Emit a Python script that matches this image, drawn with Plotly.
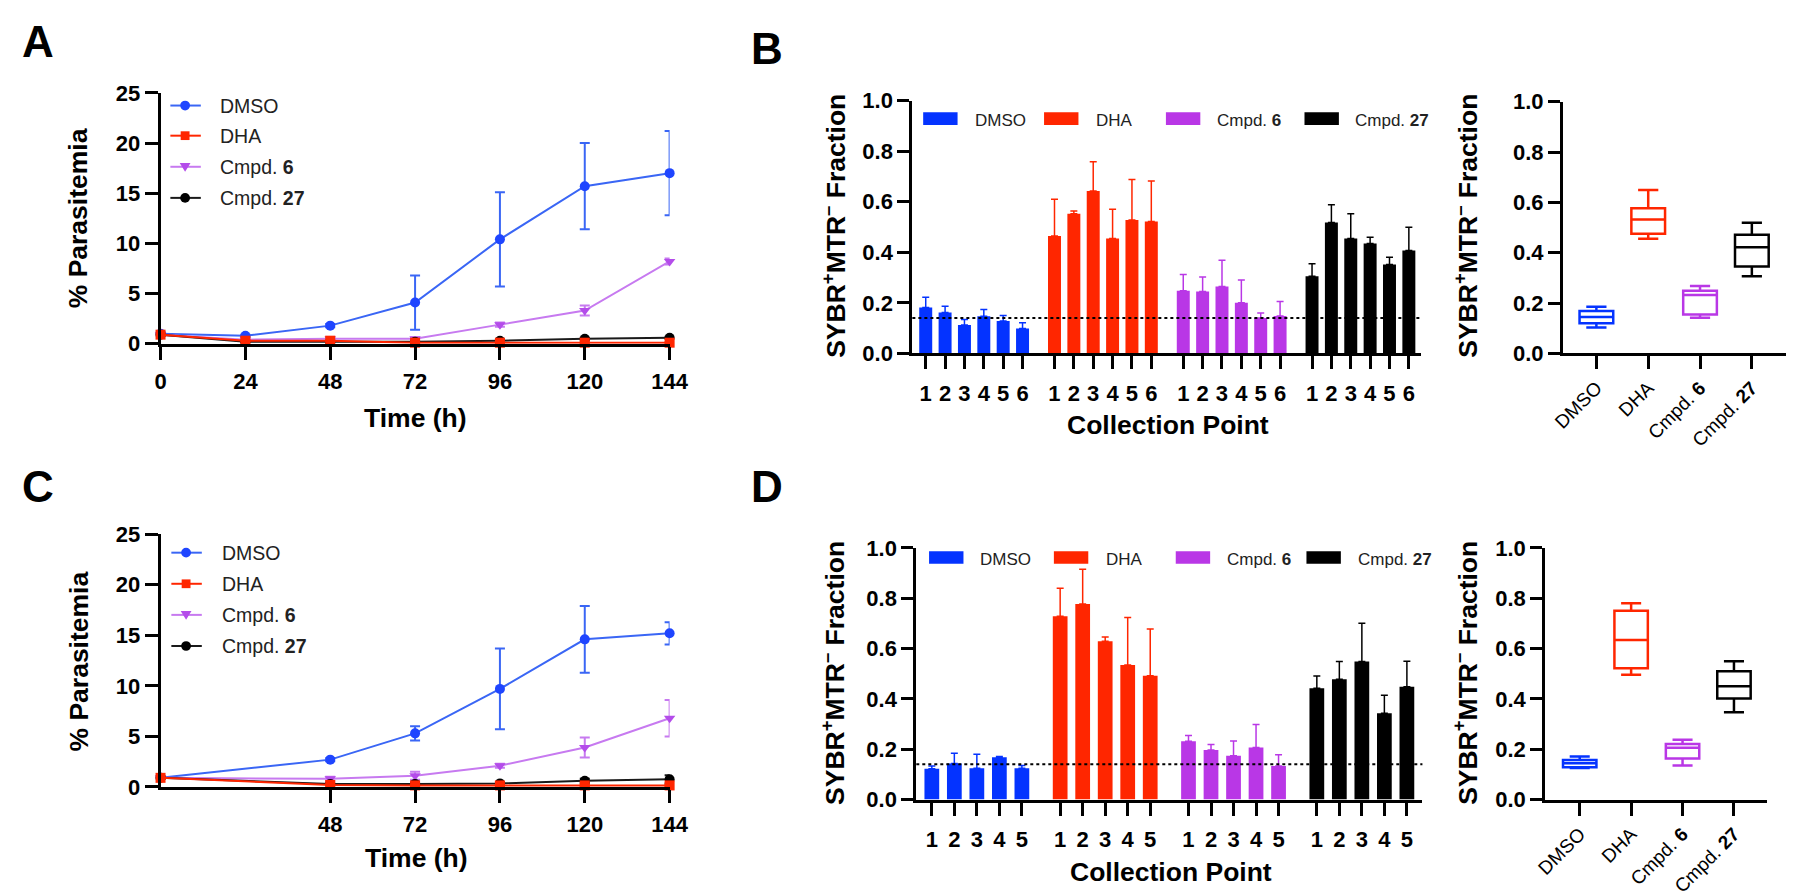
import plotly.graph_objects as go

# ---------------- data ----------------
groups = ["DMSO", "DHA", "Cmpd. 6", "Cmpd. 27"]
group_labels = ["DMSO", "DHA", "Cmpd. <b>6</b>", "Cmpd. <b>27</b>"]

# Panel A: % parasitemia vs time
time_a = [0, 24, 48, 72, 96, 120, 144]
a_dmso = [1.0, 0.8, 1.8, 4.1, 10.4, 15.7, 17.0]
a_dmso_sd = [0.15, 0.1, 0.15, 2.7, 4.7, 4.3, 4.2]
a_dha = [0.9, 0.3, 0.3, 0.1, 0.1, 0.1, 0.1]
a_dha_sd = [0.1, 0.05, 0.05, 0.05, 0.05, 0.05, 0.05]
a_c6 = [0.9, 0.4, 0.5, 0.5, 1.9, 3.3, 8.2]
a_c6_sd = [0.1, 0.05, 0.1, 0.1, 0.2, 0.5, 0.3]
a_c27 = [0.9, 0.2, 0.2, 0.2, 0.3, 0.5, 0.6]
a_c27_sd = [0.1, 0.05, 0.05, 0.05, 0.1, 0.1, 0.1]

# Panel C
time_c = [0, 48, 72, 96, 120, 144]
c_dmso = [0.9, 2.7, 5.3, 9.7, 14.6, 15.2]
c_dmso_sd = [0.1, 0.15, 0.7, 4.0, 3.3, 1.1]
c_dha = [0.9, 0.2, 0.15, 0.15, 0.15, 0.15]
c_dha_sd = [0.1, 0.05, 0.05, 0.05, 0.05, 0.05]
c_c6 = [0.9, 0.8, 1.1, 2.1, 3.9, 6.8]
c_c6_sd = [0.1, 0.2, 0.4, 0.2, 1.0, 1.8]
c_c27 = [0.9, 0.3, 0.3, 0.35, 0.6, 0.75]
c_c27_sd = [0.1, 0.05, 0.05, 0.1, 0.2, 0.4]

# Panel B bars (6 collection points)
b_points = ["1", "2", "3", "4", "5", "6"]
b_dmso = [0.182, 0.162, 0.112, 0.147, 0.128, 0.099]
b_dmso_sd = [0.040, 0.025, 0.022, 0.027, 0.022, 0.022]
b_dha = [0.465, 0.553, 0.643, 0.455, 0.528, 0.522]
b_dha_sd = [0.145, 0.010, 0.115, 0.115, 0.160, 0.160]
b_c6 = [0.248, 0.245, 0.265, 0.200, 0.140, 0.148]
b_c6_sd = [0.064, 0.057, 0.104, 0.090, 0.020, 0.057]
b_c27 = [0.305, 0.518, 0.455, 0.435, 0.352, 0.407]
b_c27_sd = [0.050, 0.070, 0.098, 0.025, 0.028, 0.092]
b_threshold = 0.14

# Panel B box summary (lower whisker, Q1, median, Q3, upper whisker)
bb_low = [0.103, 0.455, 0.142, 0.306]
bb_q1 = [0.120, 0.475, 0.155, 0.345]
bb_med = [0.145, 0.532, 0.232, 0.422]
bb_q3 = [0.168, 0.577, 0.249, 0.471]
bb_high = [0.185, 0.649, 0.268, 0.519]

# Panel D bars (5 collection points)
d_points = ["1", "2", "3", "4", "5"]
d_dmso = [0.122, 0.143, 0.124, 0.168, 0.124]
d_dmso_sd = [0.011, 0.041, 0.056, 0.003, 0.011]
d_dha = [0.728, 0.777, 0.629, 0.535, 0.492]
d_dha_sd = [0.111, 0.138, 0.017, 0.188, 0.186]
d_c6 = [0.232, 0.197, 0.174, 0.207, 0.133]
d_c6_sd = [0.023, 0.022, 0.059, 0.091, 0.045]
d_c27 = [0.442, 0.478, 0.548, 0.343, 0.448]
d_c27_sd = [0.049, 0.070, 0.152, 0.071, 0.101]
d_threshold = 0.14

# Panel D box summary
db_low = [0.125, 0.496, 0.135, 0.347]
db_q1 = [0.128, 0.522, 0.163, 0.401]
db_med = [0.144, 0.634, 0.206, 0.450]
db_q3 = [0.157, 0.750, 0.221, 0.510]
db_high = [0.171, 0.780, 0.238, 0.549]

# ---------------- style ----------------
W, H = 1800, 894
FONT = "Liberation Sans, Arial, Helvetica, sans-serif"
bar_colors = ["#0433FF", "#FF2600", "#B937E6", "#000000"]
line_colors = ["#3A66F5", "#FF2600", "#C77AF0", "#1A1A1A"]
marker_colors = ["#1F45FF", "#FF2600", "#B44CEA", "#000000"]
symbols = ["circle", "square", "triangle-down", "circle"]


def fx(px):
    return px / W


def fy(py):
    return 1 - py / H


fig = go.Figure()

# ---------------- line panels A and C ----------------
series_a = [(a_dmso, a_dmso_sd), (a_dha, a_dha_sd), (a_c6, a_c6_sd), (a_c27, a_c27_sd)]
series_c = [(c_dmso, c_dmso_sd), (c_dha, c_dha_sd), (c_c6, c_c6_sd), (c_c27, c_c27_sd)]
draw_order = [0, 2, 3, 1]
for times, series, xa, ya in [(time_a, series_a, "x", "y"),
                              (time_c, series_c, "x2", "y2")]:
    for k in draw_order:
        vals, sd = series[k]
        fig.add_trace(go.Scatter(
            x=times, y=vals, xaxis=xa, yaxis=ya, name=groups[k],
            mode="lines+markers",
            line=dict(color=line_colors[k], width=2),
            marker=dict(symbol=symbols[k], size=10, color=marker_colors[k]),
            error_y=dict(type="data", array=sd, visible=True, color=line_colors[k],
                         thickness=2, width=5),
            cliponaxis=False, showlegend=False))

# ---------------- bar panels B and D ----------------
b_series = [(b_dmso, b_dmso_sd), (b_dha, b_dha_sd), (b_c6, b_c6_sd), (b_c27, b_c27_sd)]
d_series = [(d_dmso, d_dmso_sd), (d_dha, d_dha_sd), (d_c6, d_c6_sd), (d_c27, d_c27_sd)]
bar_specs = [(b_series, b_points, 6.65, "x3", "y3", 0.67),
             (d_series, d_points, 5.70, "x4", "y4", 0.655)]
tick_pos = {}
for series, pts, stride, xa, ya, bw in bar_specs:
    tv, tt = [], []
    for g, (vals, sd) in enumerate(series):
        xs = [g * stride + i for i in range(len(pts))]
        tv += xs
        tt += pts
        fig.add_trace(go.Bar(
            x=xs, y=vals, xaxis=xa, yaxis=ya, width=bw, name=groups[g],
            marker=dict(color=bar_colors[g], line=dict(width=0)),
            error_y=dict(type="data", symmetric=False, array=sd,
                         arrayminus=[0] * len(vals), color=bar_colors[g],
                         thickness=1.5, width=3.5),
            showlegend=False))
    tick_pos[xa] = (tv, tt)

# ---------------- box panels ----------------
for (lo, q1, md, q3, hi), xa, ya in [((bb_low, bb_q1, bb_med, bb_q3, bb_high), "x5", "y5"),
                                     ((db_low, db_q1, db_med, db_q3, db_high), "x6", "y6")]:
    for g in range(4):
        fig.add_trace(go.Box(
            x=[g], q1=[q1[g]], median=[md[g]], q3=[q3[g]],
            lowerfence=[lo[g]], upperfence=[hi[g]], xaxis=xa, yaxis=ya,
            name=groups[g], width=0.65, whiskerwidth=0.6,
            fillcolor="rgba(0,0,0,0)", line=dict(color=bar_colors[g], width=2.5),
            boxpoints=False, showlegend=False, hoverinfo="skip"))

# ---------------- axes ----------------
tickfont = dict(family=FONT, size=22, color="black", weight="bold")
base_axis = dict(showline=True, linecolor="black", linewidth=3, ticks="outside",
                 ticklen=13, tickwidth=3, tickcolor="black", showgrid=False,
                 zeroline=False, tickfont=tickfont, fixedrange=True)

layout = dict(
    width=W, height=H, margin=dict(l=0, r=0, t=0, b=0),
    paper_bgcolor="white", plot_bgcolor="white", barmode="overlay",
    font=dict(family=FONT, color="black"), showlegend=False,
)
layout["xaxis"] = dict(base_axis, domain=[fx(143), fx(661)], range=[0, 144], anchor="y",
                       tickvals=time_a, ticklabelstandoff=3)
layout["yaxis"] = dict(base_axis, domain=[fy(333), fy(75)], range=[0, 25], anchor="x",
                       tickvals=[0, 5, 10, 15, 20, 25])
layout["xaxis2"] = dict(base_axis, domain=[fx(143), fx(661)], range=[0, 144], anchor="y2",
                        tickvals=[48, 72, 96, 120, 144], ticklabelstandoff=3)
layout["yaxis2"] = dict(base_axis, domain=[fy(789), fy(529)], range=[0, 25], anchor="x2",
                        tickvals=[0, 5, 10, 15, 20, 25])
layout["xaxis3"] = dict(base_axis, domain=[fx(908), fx(1426)], range=[-0.69, 25.6],
                        anchor="y3", tickvals=tick_pos["x3"][0],
                        ticktext=tick_pos["x3"][1], ticklabelstandoff=5)
layout["yaxis3"] = dict(base_axis, domain=[fy(343), fy(83)], range=[0, 1], anchor="x3",
                        dtick=0.2, tickformat=".1f", ticklen=12)
layout["xaxis4"] = dict(base_axis, domain=[fx(912), fx(1427)], range=[-0.69, 21.79],
                        anchor="y4", tickvals=tick_pos["x4"][0],
                        ticktext=tick_pos["x4"][1], ticklabelstandoff=5)
layout["yaxis4"] = dict(base_axis, domain=[fy(802), fy(543)], range=[0, 1], anchor="x4",
                        dtick=0.2, tickformat=".1f", ticklen=12)
boxtick = dict(family=FONT, size=19, color="black")
layout["xaxis5"] = dict(base_axis, domain=[fx(1570), fx(1797)], range=[-0.645, 3.66],
                        anchor="y5", tickvals=[0, 1, 2, 3], ticktext=group_labels,
                        tickangle=-45, tickfont=boxtick)
layout["yaxis5"] = dict(base_axis, domain=[fy(343), fy(84)], range=[0, 1], anchor="x5",
                        dtick=0.2, tickformat=".1f", ticklen=12)
layout["xaxis6"] = dict(base_axis, domain=[fx(1552), fx(1778)], range=[-0.67, 3.65],
                        anchor="y6", tickvals=[0, 1, 2, 3], ticktext=group_labels,
                        tickangle=-45, tickfont=boxtick)
layout["yaxis6"] = dict(base_axis, domain=[fy(802), fy(543)], range=[0, 1], anchor="x6",
                        dtick=0.2, tickformat=".1f", ticklen=12)

fig.update_layout(**layout)

# ---------------- reference lines ----------------
for xa, ya, thr in [("x3", "y3", b_threshold), ("x4", "y4", d_threshold)]:
    fig.add_shape(type="line", xref=f"{xa} domain", yref=ya, x0=0, x1=1, y0=thr, y1=thr,
                  line=dict(color="black", width=2, dash="dot"), layer="above")

# ---------------- legends for line panels (drawn) ----------------
leg_font = dict(family=FONT, size=19.5, color="#222222")
line_leg = [  # (line x0, line x1, marker x, text x, row y centres)
    (153, 184, 168, 201, [88, 119, 151, 183]),
    (154, 185, 169, 203, [548, 580, 612, 644]),
]
for lx0, lx1, mx, tx, rows in line_leg:
    for k in range(4):
        yc = rows[k]
        fig.add_shape(type="line", xref="paper", yref="paper", x0=fx(lx0), x1=fx(lx1),
                      y0=fy(yc), y1=fy(yc), line=dict(color=line_colors[k], width=2))
        r = 5
        if symbols[k] == "circle":
            fig.add_shape(type="circle", xref="paper", yref="paper",
                          x0=fx(mx - r), x1=fx(mx + r), y0=fy(yc + r), y1=fy(yc - r),
                          fillcolor=marker_colors[k], line=dict(width=0))
        elif symbols[k] == "square":
            fig.add_shape(type="rect", xref="paper", yref="paper",
                          x0=fx(mx - 4.5), x1=fx(mx + 4.5), y0=fy(yc + 4.5), y1=fy(yc - 4.5),
                          fillcolor=marker_colors[k], line=dict(width=0))
        else:
            path = (f"M {fx(mx - 5.5)},{fy(yc - 4)} L {fx(mx + 5.5)},{fy(yc - 4)} "
                    f"L {fx(mx)},{fy(yc + 5)} Z")
            fig.add_shape(type="path", xref="paper", yref="paper", path=path,
                          fillcolor=marker_colors[k], line=dict(width=0))
        fig.add_annotation(text=group_labels[k], xref="paper", yref="paper",
                           x=fx(tx), y=fy(yc), xanchor="left", yanchor="middle",
                           showarrow=False, font=leg_font)

# ---------------- legends for bar panels (drawn) ----------------
bar_leg_swatch_x = [[919, 1042, 1166, 1307], [925, 1052, 1176, 1309]]
bar_leg_text_x = [[970, 1093, 1216, 1356], [975, 1103, 1226, 1359]]
bar_leg_y = [101.5, 553]
for row in range(2):
    for g in range(4):
        x0 = bar_leg_swatch_x[row][g]
        yc = bar_leg_y[row]
        fig.add_shape(type="rect", xref="paper", yref="paper",
                      x0=fx(x0), x1=fx(x0 + 35), y0=fy(yc + 6.5), y1=fy(yc - 6.5),
                      fillcolor=bar_colors[g], line=dict(width=0))
        fig.add_annotation(text=group_labels[g], xref="paper", yref="paper",
                           x=fx(bar_leg_text_x[row][g]), y=fy(yc + 2), xanchor="left",
                           yanchor="middle", showarrow=False,
                           font=dict(family=FONT, size=17, color="#222222"))

# ---------------- axis titles ----------------
title_font = dict(family=FONT, size=26.5, color="black", weight="bold")
ytitle = "SYBR<sup>+</sup>MTR<sup>\u2013</sup> Fraction"
titles = [
    ("% Parasitemia", 59, 204, -90),
    ("% Parasitemia", 60, 660, -90),
    ("Time (h)", 402, 409, 0),
    ("Time (h)", 403, 862, 0),
    (ytitle, 828, 212, -90),
    (ytitle, 827, 672, -90),
    (ytitle, 1471, 212, -90),
    (ytitle, 1471, 672, -90),
    ("Collection Point", 1168, 417, 0),
    ("Collection Point", 1171, 877, 0),
]
for text, px, py, ang in titles:
    fig.add_annotation(text=text, xref="paper", yref="paper", x=fx(px), y=fy(py),
                       xanchor="center", yanchor="middle", textangle=ang,
                       showarrow=False, font=title_font)

# ---------------- panel letters ----------------
letter_font = dict(family=FONT, size=44, color="black", weight="bold")
for text, px, py in [("A", 0, 22), ("B", 742, 29), ("C", 0, 480), ("D", 742, 480)]:
    fig.add_annotation(text=text, xref="paper", yref="paper", x=fx(px), y=fy(py),
                       xanchor="left", yanchor="middle", showarrow=False, font=letter_font)

fig.write_html("out.html")
